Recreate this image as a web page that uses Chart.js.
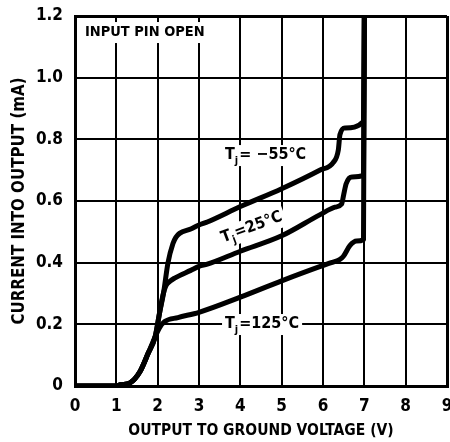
<!DOCTYPE html>
<html>
<head>
<meta charset="utf-8">
<script src="https://cdn.jsdelivr.net/npm/chart.js@4/dist/chart.umd.min.js"></script>
<style>
  html, body { margin: 0; padding: 0; background: #fff; }
  canvas { display: block; }
</style>
</head>
<body>
<canvas id="c" width="450" height="442"></canvas>
<script>
// ---- data ----
const xTickLabels = ['0', '1', '2', '3', '4', '5', '6', '7', '8', '9'];
const yTickLabels = ['0', '0.2', '0.4', '0.6', '0.8', '1.0', '1.2'];

const xMinus55 = [0, 1.0, 1.1, 1.33, 1.57, 1.77, 1.94, 2.05, 2.14, 2.25, 2.37, 2.44, 2.53, 2.8, 3.0, 3.2, 4.0, 5.0, 5.92, 6.25, 6.37, 6.41, 6.53, 6.98, 7.0];
const yMinus55 = [0, 0, 0.004, 0.01, 0.046, 0.106, 0.16, 0.24, 0.3, 0.4, 0.462, 0.482, 0.495, 0.509, 0.522, 0.532, 0.582, 0.64, 0.70, 0.725, 0.765, 0.815, 0.837, 0.858, 1.2];

const x25 = [0, 1.0, 1.1, 1.33, 1.57, 1.77, 1.94, 2.05, 2.13, 2.2, 2.3, 2.41, 2.8, 3.0, 3.2, 4.0, 5.0, 5.92, 6.29, 6.45, 6.5, 6.56, 6.7, 6.98, 7.0];
const y25 = [0, 0, 0.004, 0.01, 0.046, 0.106, 0.16, 0.24, 0.296, 0.325, 0.34, 0.35, 0.375, 0.388, 0.395, 0.437, 0.487, 0.555, 0.58, 0.59, 0.62, 0.656, 0.678, 0.683, 1.2];

const x125 = [0, 1.0, 1.1, 1.33, 1.57, 1.77, 1.94, 2.05, 2.17, 2.49, 3.0, 4.0, 5.0, 5.92, 6.2, 6.4, 6.49, 6.65, 6.81, 6.98, 7.0];
const y125 = [0, 0, 0.004, 0.01, 0.046, 0.106, 0.16, 0.19, 0.209, 0.222, 0.239, 0.288, 0.341, 0.387, 0.40, 0.41, 0.42, 0.455, 0.47, 0.475, 1.2];

const seriesNames = ['Tj = −55°C', 'Tj = 25°C', 'Tj = 125°C'];

// ---- annotation texts ----
const notes = [
  { parts: [['INPUT PIN OPEN', 0]], x: 0.24, y: 1.148, rot: 0, size: 14.5 },
  { parts: [['T', 0], ['j', 1], ['= −55°C', 0]], x: 3.63, y: 0.749, rot: 0, size: 16 },
  { parts: [['T', 0], ['j', 1], ['=25°C', 0]], x: 3.55, y: 0.478, rot: -20.5, size: 16 },
  { parts: [['T', 0], ['j', 1], ['=125°C', 0]], x: 3.63, y: 0.201, rot: 0, size: 16 }
];

const FAMILY = '"Liberation Sans Narrow", "DejaVu Sans Condensed", "Liberation Sans", sans-serif';

function pts(xs, ys) { return xs.map((x, i) => ({ x: x, y: ys[i] })); }

const notePlugin = {
  id: 'notes',
  beforeDatasetsDraw(chart) {
    const { ctx, scales } = chart;
    ctx.save();
    notes.forEach(n => {
      const px = scales.x.getPixelForValue(n.x);
      const py = scales.y.getPixelForValue(n.y);
      const fMain = 'bold ' + n.size + 'px ' + FAMILY;
      const fSub = 'bold ' + Math.round(n.size * 0.7) + 'px ' + FAMILY;
      let w = 0;
      const widths = n.parts.map(p => { ctx.font = p[1] ? fSub : fMain; const m = ctx.measureText(p[0]).width; w += m + (p[1] ? 1 : 0); return m; });
      ctx.save();
      ctx.translate(px, py);
      ctx.rotate(n.rot * Math.PI / 180);
      ctx.fillStyle = '#fff';
      ctx.fillRect(-3, -10, w + 6, 21);
      ctx.fillStyle = '#000';
      ctx.textBaseline = 'middle';
      ctx.textAlign = 'left';
      let cx = 0;
      n.parts.forEach((p, i) => {
        ctx.font = p[1] ? fSub : fMain;
        ctx.fillText(p[0], cx, p[1] ? 6 : 0);
        cx += widths[i] + (p[1] ? 1 : 0);
      });
      ctx.restore();
    });
    ctx.restore();
  }
};

function edgeWidth(c, max) {
  const v = c.tick ? c.tick.value : null;
  return (v === 0 || Math.abs(v - max) < 1e-9) ? 3 : 2;
}

const ds = (label, xs, ys) => ({
  label: label,
  data: pts(xs, ys),
  showLine: true,
  borderColor: '#000',
  backgroundColor: '#000',
  borderWidth: 5,
  pointRadius: 0,
  cubicInterpolationMode: 'monotone',
  borderJoinStyle: 'round',
  borderCapStyle: 'butt',
  fill: false
});

new Chart(document.getElementById('c'), {
  type: 'scatter',
  data: {
    datasets: [
      ds(seriesNames[0], xMinus55, yMinus55),
      ds(seriesNames[1], x25, y25),
      ds(seriesNames[2], x125, y125)
    ]
  },
  options: {
    responsive: false,
    animation: false,
    layout: { padding: { top: 16, right: 3, left: 0, bottom: 0 } },
    plugins: { legend: { display: false }, tooltip: { enabled: false } },
    scales: {
      x: {
        type: 'linear', min: 0, max: 9,
        ticks: {
          stepSize: 1, color: '#000', padding: 10,
          font: { family: FAMILY, size: 17, weight: 'bold' },
          callback: (v, i) => xTickLabels[i]
        },
        grid: { color: '#000', lineWidth: c => edgeWidth(c, 9), drawTicks: false },
        border: { color: '#000', width: 3 },
        title: {
          display: true, text: 'OUTPUT TO GROUND VOLTAGE (V)', color: '#000',
          font: { family: FAMILY, size: 15.5, weight: 'bold' },
          padding: { top: 0, bottom: 2 }
        },
        afterFit(s) { s.height = 56; s.paddingLeft = 0; s.paddingRight = 0; }
      },
      y: {
        type: 'linear', min: 0, max: 1.2,
        ticks: {
          stepSize: 0.2, color: '#000', padding: 12,
          font: { family: FAMILY, size: 17, weight: 'bold' },
          callback: (v, i) => yTickLabels[i]
        },
        grid: { color: '#000', lineWidth: c => edgeWidth(c, 1.2), drawTicks: false },
        border: { color: '#000', width: 3 },
        title: {
          display: true, text: 'CURRENT INTO OUTPUT (mA)', color: '#000',
          font: { family: FAMILY, size: 16.8, weight: 'bold' },
          padding: { top: 10, bottom: 0 }
        },
        afterFit(s) { s.width = 75; s.paddingTop = 0; s.paddingBottom = 0; }
      }
    }
  },
  plugins: [notePlugin]
});
</script>
</body>
</html>
